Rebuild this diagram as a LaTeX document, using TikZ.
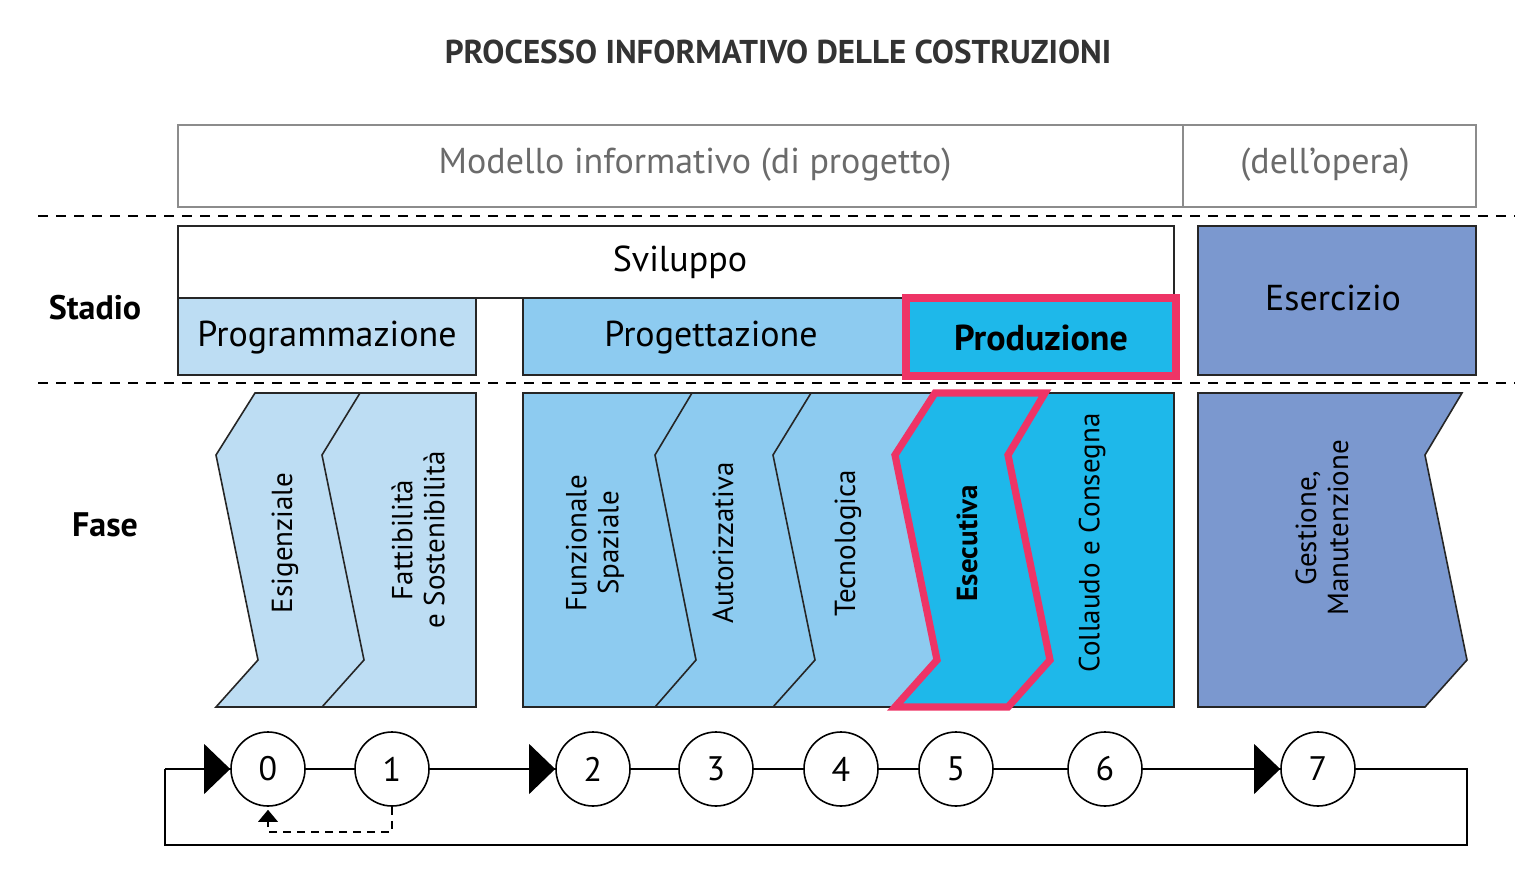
\documentclass[tikz,border=0pt]{standalone}
\usepackage{fontspec}
\setmainfont{PT Sans}
\begin{document}
\begin{tikzpicture}[x=0.5pt,y=-0.5pt,
  box/.style={draw=black!85,line width=0.8pt},
  chev/.style={draw=black!85,line width=0.8pt,line join=miter},
  circ/.style={circle,draw=black,line width=0.8pt,minimum size=37pt,inner sep=0pt,font=\fontsize{17}{20}\selectfont},
  lab/.style={font=\fontsize{18}{22}\selectfont},
  vlab/.style={rotate=90,align=center,font=\fontsize{14.5}{16}\selectfont},
  tri/.style={fill=black},
  red/.style={draw=hl,line width=3.6pt,line join=miter}]
\definecolor{lb}{HTML}{BDDDF3}
\definecolor{mb}{HTML}{8DCBF0}
\definecolor{bb}{HTML}{1EB8EA}
\definecolor{pb}{HTML}{7B98CF}
\definecolor{hl}{HTML}{EE3466}
\definecolor{gt}{HTML}{6B6B6B}
\useasboundingbox (0,0) rectangle (1528,879);
\node[font=\bfseries\fontsize{16.5}{20}\selectfont,text=black!80] (title) at (778,52) {PROCESSO INFORMATIVO DELLE COSTRUZIONI};
% top row
\draw[draw=black!45,line width=0.8pt] (178,125) rectangle (1183,207) (1183,125) rectangle (1476,207);
\node[lab,text=gt] (mi) at (695,165) {Modello informativo (di progetto)};
\node[lab,text=gt] (mo) at (1325,165) {(dell’opera)};
\draw[dashed,line width=0.7pt,dash pattern=on 5pt off 4pt] (38,216) -- (1515,216) (38,383) -- (1515,383);
% stadio
\draw[box,fill=white] (178,226) rectangle (1174,298);
\node[lab] (svil) at (680,262) {Sviluppo};
\draw[box,fill=lb] (178,298) rectangle (476,375);
\node[lab] (prog) at (327,338) {Programmazione};
\draw[box,fill=mb] (523,298) rectangle (905,375);
\node[lab] (proget) at (711,338) {Progettazione};
\draw[fill=bb,draw=hl,line width=3.6pt] (906,298) rectangle (1176,376);
\node[lab,font=\bfseries\fontsize{18}{22}\selectfont] (prod) at (1041,338) {Produzione};
\draw[box,fill=pb] (1198,226) rectangle (1476,375);
\node[lab] (eser) at (1333,298) {Esercizio};
\node[font=\bfseries\fontsize{17}{20}\selectfont] (stadio) at (95,308) {Stadio};
\node[font=\bfseries\fontsize{17}{20}\selectfont] (fase) at (105,525) {Fase};
% fase chevrons group 1
\fill[lb] (255,393) -- (476,393) -- (476,707) -- (216,707) -- (258,660) -- (216,455) -- cycle;
\draw[chev] (255,393) -- (476,393) -- (476,707) -- (216,707) -- (258,660) -- (216,455) -- cycle;
\draw[chev] (360,393) -- (322,455) -- (364,660) -- (322,707);
\node[vlab] (f0) at (285,543) {Esigenziale};
\node[vlab] (f1) at (418,540) {Fattibilità\\e Sostenibilità};
% group 2
\fill[mb] (523,393) rectangle (1174,707);
\fill[bb] (935,393) -- (1174,393) -- (1174,707) -- (895,707) -- (937,660) -- (895,455) -- cycle;
\draw[chev] (523,393) rectangle (1174,707);
\draw[chev] (692,393) -- (655,455) -- (696,660) -- (655,707);
\draw[chev] (811,393) -- (773,455) -- (815,660) -- (773,707);
\draw[red] (935,393) -- (1045,393) -- (1008,455) -- (1050,660) -- (1008,707) -- (895,707) -- (937,660) -- (895,455) -- cycle;
\node[vlab] (f2) at (595,543) {Funzionale\\Spaziale};
\node[vlab] (f3) at (723,543) {Autorizzativa};
\node[vlab] (f4) at (848,543) {Tecnologica};
\node[vlab,font=\bfseries\fontsize{14.5}{16}\selectfont] (f5) at (967,543) {Esecutiva};
\node[vlab] (f6) at (1092,543) {Collaudo e Consegna};
% group 3
\draw[chev,fill=pb] (1198,393) -- (1462,393) -- (1425,455) -- (1467,660) -- (1425,707) -- (1198,707) -- cycle;
\node[vlab] (f7) at (1322,528) {Gestione,\\Manutenzione};
% circles
\foreach \n/\x in {0/268,1/392,2/593,3/716,4/841,5/956,6/1105,7/1318}
  \node[circ] (c\n) at (\x,769) {\n};
\coordinate (lt) at (165,769);
\coordinate (rt) at (1467,769);
\draw[line width=0.8pt] (lt) -- (c0) (c0) -- (c1) (c1) -- (c2) (c2) -- (c3) (c3) -- (c4) (c4) -- (c5) (c5) -- (c6) (c6) -- (c7) (c7) -- (rt) |- (165,845) -- (lt);
\foreach \n in {0,2,7}
  \fill[tri] (c\n.west) -- ++(-26,-25) -- ++(0,50) -- cycle;
\draw[dashed,line width=0.8pt,dash pattern=on 4pt off 3pt] (c1.south) -- (392,832) -- (268,832) -- (268,815);
\fill[tri] (c0.south) ++(0,3) -- ++(-10,12) -- ++(20,0) -- cycle;
\end{tikzpicture}
\end{document}
